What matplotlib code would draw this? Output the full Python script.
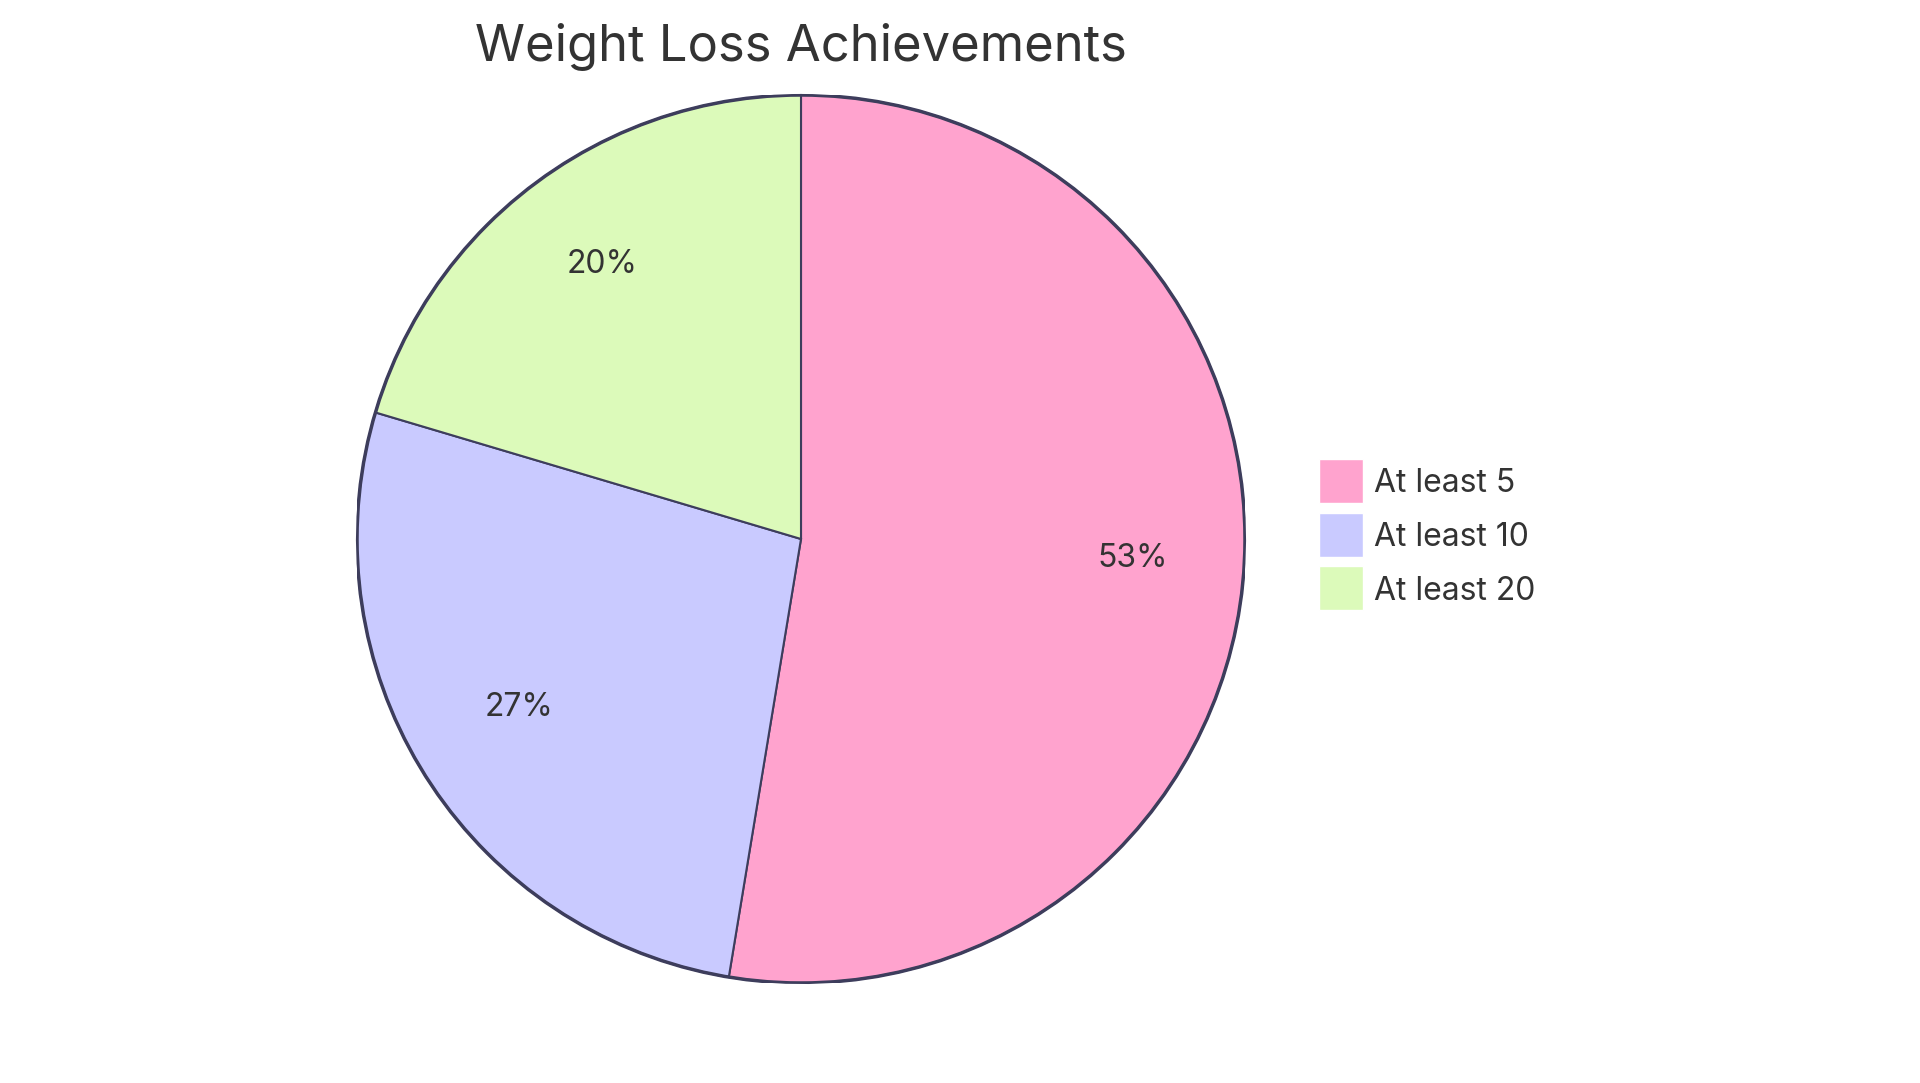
import matplotlib
matplotlib.use("Agg")
import matplotlib.pyplot as plt
from matplotlib.patches import Rectangle, Circle

categories = ["At least 5", "At least 10", "At least 20"]
values = [52.6, 27.0, 20.4]
colors = ["#FFA3CE", "#C9CAFF", "#DCFABA"]
title = "Weight Loss Achievements"

plt.rcParams['font.family'] = ['Inter', 'DejaVu Sans']
W, H = 1920, 1083
fig = plt.figure(figsize=(W / 100, H / 100), dpi=100)
fig.patch.set_facecolor("white")

cx, cy, r = 801, 539, 444
ax = fig.add_axes([(cx - r) / W, (H - cy - r) / H, 2 * r / W, 2 * r / H])

edge = "#3D3D5C"
wedges, texts, autotexts = ax.pie(
    values, colors=colors, startangle=90, counterclock=False, radius=1,
    autopct="%1.0f%%", pctdistance=0.75,
    wedgeprops=dict(edgecolor=edge, linewidth=1.5),
    textprops=dict(fontsize=23, color="#333333"))
for t in autotexts:
    x, y = t.get_position()
    t.set_position((x, y + 0.018))
ax.add_patch(Circle((0, 0), 1, fill=False, edgecolor=edge, linewidth=2.5, zorder=5))
ax.set_xlim(-1, 1)
ax.set_ylim(-1, 1)
ax.set_aspect("equal")
ax.axis("off")

fig.text(cx / W, 1 - 47 / H, title, ha="center", va="center",
         fontsize=36.5, color="#333333")

sq = 44
for i, (lab, col) in enumerate(zip(categories, colors)):
    yc = 481 + i * 53.5
    fig.patches.append(Rectangle((1319 / W, 1 - (yc + sq / 2) / H), sq / W, sq / H,
                                 transform=fig.transFigure, facecolor=col,
                                 edgecolor="white", linewidth=1))
    fig.text(1374 / W, 1 - (yc + 3) / H, lab, ha="left", va="center",
             fontsize=23, color="#333333")

fig.savefig("out.png", dpi=100)
